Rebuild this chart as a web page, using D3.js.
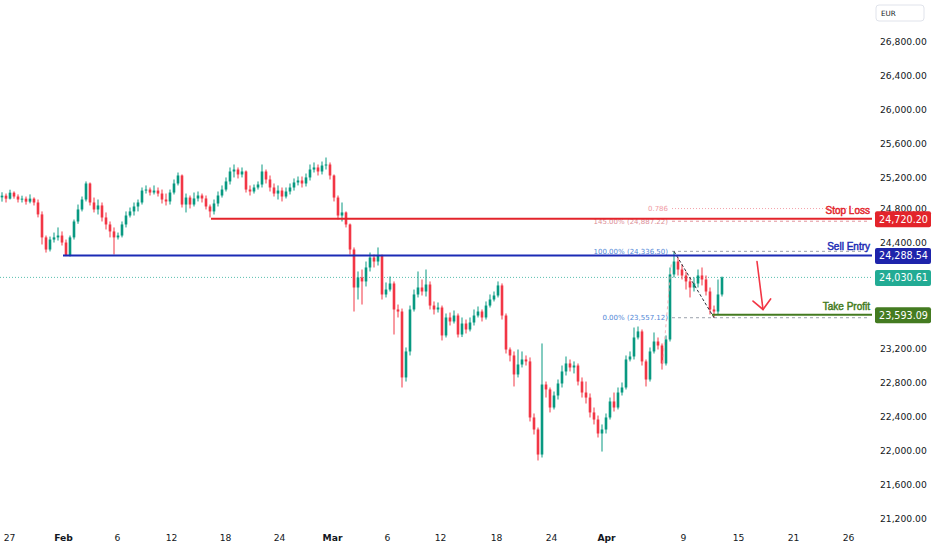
<!DOCTYPE html>
<html><head><meta charset="utf-8">
<script src="https://cdn.jsdelivr.net/npm/d3@7"></script>
<style>
html,body{margin:0;padding:0;background:#fff;}
svg{display:block;font-family:"DejaVu Sans",sans-serif;}
</style></head><body>
<svg id="chart" width="932" height="550"></svg>
<script>
// ---------- DATA ----------
const firstOpen = 24970;
const closes = [
24990,24955,25025,24980,24945,24955,24920,24955,24910,24770,
24500,24358,24475,24500,24522,24440,24287,24500,24687,24828,
24945,25133,24910,24828,24875,24734,24652,24570,24500,24522,
24652,24757,24805,24863,24910,25050,25062,25027,25050,25015,
24945,24922,25027,25133,25227,24886,24968,24886,24957,24992,
24957,24863,24805,24898,24992,25062,25157,25274,25297,25239,
25274,25062,25039,25086,25121,25274,25180,25086,25015,25050,
24980,25039,25086,25145,25168,25133,25204,25297,25321,25274,
25344,25356,25227,24968,24757,24793,24652,24358,23912,24030,
23983,24147,24264,24217,24287,23830,23888,23959,23654,23630,
22856,23161,23654,23830,23912,23865,23947,23700,23654,23677,
23349,23560,23513,23583,23360,23489,23419,23501,23583,23630,
23560,23700,23771,23818,23936,23583,23184,23114,22891,23008,
23067,23044,22386,22245,21951,22773,22715,22503,22644,22785,
22926,23020,22973,22996,22808,22679,22620,22445,22362,22198,
22245,22386,22574,22503,22679,22738,23067,23102,23325,23396,
23044,22832,23161,23278,23231,23020,23302,24065,24217,24123,
24053,23983,23912,23959,24053,24006,23865,23654,23630,23830,24030.61];
const highs = [
25030,25015,25060,25040,25005,24990,24980,25005,24970,24945,
24805,24522,24510,24557,24617,24570,24475,24522,24710,24886,
24980,25157,25145,24968,24945,24910,24793,24687,24617,24557,
24687,24805,24851,24910,24945,25086,25110,25086,25110,25086,
25062,25015,25062,25180,25262,25239,25015,24992,25027,25039,
25015,24992,24886,24945,25039,25110,25204,25321,25356,25321,
25321,25286,25110,25121,25157,25356,25297,25227,25133,25110,
25086,25086,25133,25192,25215,25215,25250,25356,25380,25356,
25391,25438,25380,25239,24992,24910,24805,24663,24382,24100,
24123,24217,24323,24299,24382,24299,23971,24041,23983,23712,
23665,23208,23700,23888,24100,24006,24123,23983,23748,23736,
23700,23607,23618,23642,23607,23560,23536,23560,23654,23689,
23654,23748,23830,23865,23983,23960,23607,23208,23161,23184,
23161,23114,23091,22433,22268,23255,22808,22738,22691,22832,
22996,23102,23067,23044,23020,22856,22808,22668,22503,22409,
22304,22433,22620,22679,22738,22797,23114,23161,23442,23454,
23419,23067,23208,23384,23325,23255,23349,24147,24336.5,24264,
24182,24100,24030,24030,24123,24147,24053,23912,23700,24006,24041];
const lows = [
24920,24910,24945,24955,24910,24910,24885,24900,24875,24735,
24417,24322,24335,24440,24463,24405,24280,24275,24475,24660,
24805,24922,24875,24793,24769,24687,24593,24500,24299,24475,
24500,24617,24734,24757,24805,24886,25015,24992,25004,24980,
24898,24875,24886,25004,25110,24851,24793,24840,24863,24922,
24910,24828,24734,24769,24863,24968,25039,25121,25204,25192,
25204,25027,24992,25015,25062,25086,25133,25039,24980,24945,
24922,24957,25004,25050,25110,25086,25098,25168,25262,25227,
25239,25297,25180,24922,24710,24687,24617,24299,23630,23771,
23712,23924,24100,24147,24170,23771,23795,23865,23360,23560,
22738,22808,23114,23630,23795,23818,23806,23654,23595,23618,
23290,23325,23466,23489,23325,23330,23372,23396,23466,23560,
23513,23536,23677,23748,23795,23536,23137,23044,22750,22856,
22973,22996,22339,22186,21881,21916,22620,22445,22480,22597,
22738,22879,22926,22903,22762,22620,22550,22386,22304,22151,
21986,22198,22362,22456,22480,22644,22715,23044,23067,23302,
22996,22750,22808,23137,23184,22949,22996,23278,24030,24053,
24006,23888,23795,23865,23912,23936,23818,23595,23557.12,23600,23806];

const timeTickBars   = [1.75,15.25,28.75,42.25,55.75,69.25,82.5,96.25,109.5,123.5,137.25,151,170.25,184,197.75,211.5];
const timeTickLabels = ["27","Feb","6","12","18","24","Mar","6","12","18","24","Apr","9","15","21","26"];
const monthLabels = ["Feb","Mar","Apr"];
// price scale labels visible in the reference (24,000 and 23,600 sit under price tags)
const priceTicks = [21200,21600,22000,22400,22800,23200,24400,24800,25200,25600,26000,26400,26800];

const levelNames  = ["Stop Loss","Sell Entry","Take Profit"];
const levelPrices = [24720.20, 24288.54, 23593.09];
const levelStartBars = [52.25, 15.25, 177.5];
const levelColors = ["#e3242b","#1b2bb5","#447b21"];
const lastPrice = 24030.61;

const fibLabels = ["0.786","145.00% (24,887.22)","100.00% (24,336.50)","0.00% (23,557.12)"];
const fibPrices = [24839, 24690, 24336.5, 23557.12];
const fibStartBar = 167.5;
const fibSwing = [[168,24336.5],[178,23557.12]];
const fibGuide = [[167.3,24182],[165,22937]];
const arrowPts = [[188.75,24217],[190.25,23654]];

// ---------- BUILD ----------
const candles = closes.map((c,i)=>({i, o: i===0?firstOpen:closes[i-1], h: highs[i], l: lows[i], c}));

const svg = d3.select("#chart");
const plotRight = 872;
const x = d3.scaleLinear().domain([0,180]).range([2,722]);
const y = d3.scaleLinear().domain([21200,26800]).range([518.5,41.5]);
const UP = "#089981", DOWN = "#f23645";

// last price dotted line
svg.append("line").attr("x1",0).attr("x2",plotRight).attr("y1",y(lastPrice)).attr("y2",y(lastPrice))
  .attr("stroke","#22ab94").attr("stroke-width",1).attr("stroke-dasharray","1,2").attr("opacity",0.75);

// candles
const cg = svg.append("g");
const bw = 2.6;
cg.selectAll("line.wick").data(candles).join("line").attr("class","wick")
  .attr("x1",d=>x(d.i)).attr("x2",d=>x(d.i)).attr("y1",d=>y(d.h)).attr("y2",d=>y(d.l))
  .attr("stroke",d=>d.c>=d.o?UP:DOWN).attr("stroke-width",1);
cg.selectAll("rect.body").data(candles).join("rect").attr("class","body")
  .attr("x",d=>x(d.i)-bw/2).attr("width",bw)
  .attr("y",d=>y(Math.max(d.o,d.c)))
  .attr("height",d=>Math.max(1,Math.abs(y(d.o)-y(d.c))))
  .attr("fill",d=>d.c>=d.o?UP:DOWN);

// fib levels
const fibColors = ["#f4a3ab","#e3959d","#9aa0ab","#9aa0ab"];
const fibDash = ["1,2","3,3","3,3","3,3"];
const fibTextColors = ["#f19aa3","#dc8e97","#4f86d6","#4f86d6"];
fibPrices.forEach((p,k)=>{
  svg.append("line").attr("x1",x(fibStartBar)).attr("x2",plotRight-2).attr("y1",y(p)).attr("y2",y(p))
    .attr("stroke",fibColors[k]).attr("stroke-width",1).attr("stroke-dasharray",fibDash[k]);
  svg.append("text").attr("x",x(fibStartBar)-4).attr("y",y(p)).attr("dy","0.35em")
    .attr("text-anchor","end").attr("font-size",7).attr("fill",fibTextColors[k]).text(fibLabels[k]);
});
svg.append("line").attr("x1",x(fibGuide[0][0])).attr("y1",y(fibGuide[0][1]))
  .attr("x2",x(fibGuide[1][0])).attr("y2",y(fibGuide[1][1]))
  .attr("stroke","#f4a3ab").attr("stroke-width",1).attr("stroke-dasharray","3,3").attr("opacity",0.8);
svg.append("line").attr("x1",x(fibSwing[0][0])).attr("y1",y(fibSwing[0][1]))
  .attr("x2",x(fibSwing[1][0])).attr("y2",y(fibSwing[1][1]))
  .attr("stroke","#2a2e39").attr("stroke-width",1).attr("stroke-dasharray","3,2");

// horizontal trade levels
levelPrices.forEach((p,k)=>{
  svg.append("line").attr("x1",x(levelStartBars[k])).attr("x2",plotRight).attr("y1",y(p)).attr("y2",y(p))
    .attr("stroke",levelColors[k]).attr("stroke-width",2);
  svg.append("text").attr("x",870).attr("y",y(p)-5).attr("text-anchor","end")
    .attr("font-family","Liberation Sans, Arial, sans-serif")
    .attr("font-size",10).attr("fill",levelColors[k]).attr("stroke",levelColors[k]).attr("stroke-width",0.45)
    .text(levelNames[k]);
});

// red arrow
(function(){
  const x1=x(arrowPts[0][0]), y1=y(arrowPts[0][1]), x2=x(arrowPts[1][0]), y2=y(arrowPts[1][1]);
  const ang = Math.atan2(y2-y1,x2-x1), L=13, a=0.75;
  const p1=[x2-L*Math.cos(ang-a), y2-L*Math.sin(ang-a)], p2=[x2-L*Math.cos(ang+a), y2-L*Math.sin(ang+a)];
  const g = svg.append("g").attr("stroke","#f23645").attr("stroke-width",1.6).attr("fill","none").attr("stroke-linecap","round");
  g.append("line").attr("x1",x1).attr("y1",y1).attr("x2",x2).attr("y2",y2);
  g.append("path").attr("d",`M${p1[0]},${p1[1]}L${x2},${y2}L${p2[0]},${p2[1]}`);
})();

// right axis
const ya = svg.append("g").attr("transform",`translate(${plotRight},0)`)
  .call(d3.axisRight(y).tickValues(priceTicks).tickFormat(d3.format(",.2f")).tickSize(0).tickPadding(8));
ya.select(".domain").remove();
ya.selectAll("text").attr("font-size",9.2).attr("fill","#131722").attr("font-family","DejaVu Sans");
// labels partly under price tags sit just above them, as in the reference
ya.selectAll("text").filter(d=>d===24800||d===24400).attr("dy","-0.05em");

// bottom axis
const xa = svg.append("g").attr("transform","translate(0,528)")
  .call(d3.axisBottom(x).tickValues(timeTickBars).tickFormat((d,i)=>timeTickLabels[i]).tickSize(0).tickPadding(6));
xa.select(".domain").remove();
xa.selectAll("text").attr("font-size",9.2).attr("fill","#131722").attr("font-family","DejaVu Sans")
  .attr("font-weight",(d,i)=>monthLabels.includes(timeTickLabels[i])?"bold":"normal");

// price label boxes
const boxPrices = [levelPrices[0], levelPrices[1], lastPrice, levelPrices[2]];
const boxColors = [levelColors[0], "#1e24ab", "#22ab94", levelColors[2]];
boxPrices.forEach((p,k)=>{
  svg.append("rect").attr("x",875).attr("y",y(p)-7.5).attr("width",56).attr("height",16).attr("rx",2)
    .attr("fill",boxColors[k]);
  svg.append("text").attr("x",903.5).attr("y",y(p)+0.5).attr("dy","0.35em").attr("text-anchor","middle")
    .attr("font-size",9.6).attr("fill","#fff").text(d3.format(",.2f")(p));
});

// currency box
svg.append("rect").attr("x",876).attr("y",5).attr("width",48).attr("height",16).attr("rx",3)
  .attr("fill","#fff").attr("stroke","#e0e3eb");
svg.append("text").attr("x",881).attr("y",16).attr("font-size",7.2).attr("fill","#131722").text("EUR");
</script>
</body></html>
